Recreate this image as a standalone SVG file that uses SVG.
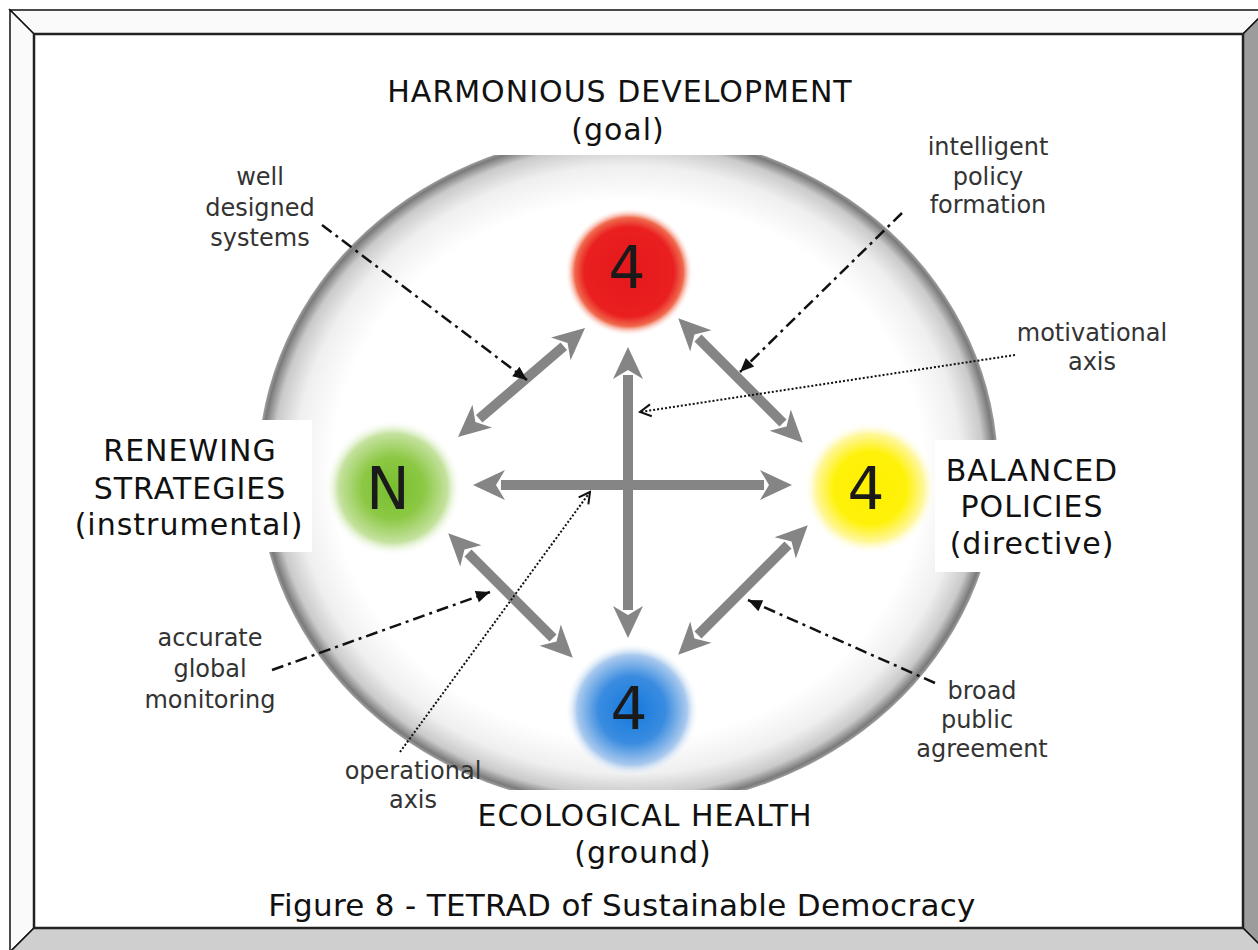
<svg xmlns="http://www.w3.org/2000/svg" width="1258" height="950" viewBox="0 0 1258 950">
<style>
.lbl{font-family:"DejaVu Sans","Liberation Sans",sans-serif;font-size:30px;fill:#111;text-anchor:middle;letter-spacing:1px}
.sm{font-family:"DejaVu Sans","Liberation Sans",sans-serif;font-size:24px;fill:#333;text-anchor:middle}
.num{font-family:"DejaVu Sans","Liberation Sans",sans-serif;font-size:58px;fill:#1a1a1a;text-anchor:middle}
.cap{font-family:"DejaVu Sans","Liberation Sans",sans-serif;font-size:31px;fill:#111;text-anchor:middle;letter-spacing:0.3px}
.ga{stroke:#858585;stroke-width:10;fill:none;marker-start:url(#gah);marker-end:url(#gah)}
.dd{stroke:#111;stroke-width:2.5;fill:none;stroke-dasharray:12 5 3 5;marker-end:url(#bah)}
.dt{stroke:#111;stroke-width:2;fill:none;stroke-dasharray:2 2;marker-end:url(#chev)}
.box{fill:#fff}
</style>
<defs>
<marker id="gah" markerUnits="userSpaceOnUse" viewBox="-10 -18 44 36" markerWidth="44" markerHeight="36" refX="0" refY="0" orient="auto-start-reverse"><path d="M28,0 L-4,-15 L5,0 L-4,15 Z" fill="#858585"/></marker>
<marker id="bah" markerUnits="userSpaceOnUse" viewBox="-16 -8 18 16" markerWidth="18" markerHeight="16" refX="0" refY="0" orient="auto"><path d="M0,0 L-14,-6 L-14,6 Z" fill="#111"/></marker>
<marker id="chev" markerUnits="userSpaceOnUse" viewBox="-14 -8 16 16" markerWidth="16" markerHeight="16" refX="0" refY="0" orient="auto"><path d="M-11,-6 L0,0 L-11,6" fill="none" stroke="#111" stroke-width="2"/></marker>
<radialGradient id="rim" cx="0.5" cy="0.5" r="0.5">
<stop offset="0" stop-color="#fff"/>
<stop offset="0.8" stop-color="#fff"/>
<stop offset="0.9" stop-color="#efefef"/>
<stop offset="0.96" stop-color="#cacaca"/>
<stop offset="0.99" stop-color="#7a7a7a"/>
<stop offset="1" stop-color="#a0a0a0"/>
</radialGradient>
<radialGradient id="gRed" cx="0.5" cy="0.5" r="0.5">
<stop offset="0" stop-color="#e5171b"/>
<stop offset="0.7" stop-color="#ea1f20"/>
<stop offset="0.85" stop-color="#f06a4e"/>
<stop offset="1" stop-color="#fff" stop-opacity="0"/>
</radialGradient>
<radialGradient id="gGreen" cx="0.5" cy="0.5" r="0.5">
<stop offset="0" stop-color="#76be2e"/>
<stop offset="0.45" stop-color="#8cc844"/>
<stop offset="0.8" stop-color="#c4e29e"/>
<stop offset="1" stop-color="#fff" stop-opacity="0"/>
</radialGradient>
<radialGradient id="gYellow" cx="0.5" cy="0.5" r="0.5">
<stop offset="0" stop-color="#fff000"/>
<stop offset="0.55" stop-color="#fff20a"/>
<stop offset="0.82" stop-color="#fff79c"/>
<stop offset="1" stop-color="#fff" stop-opacity="0"/>
</radialGradient>
<radialGradient id="gBlue" cx="0.5" cy="0.5" r="0.5">
<stop offset="0" stop-color="#1479dc"/>
<stop offset="0.5" stop-color="#3a8ce0"/>
<stop offset="0.82" stop-color="#a9c9ee"/>
<stop offset="1" stop-color="#fff" stop-opacity="0"/>
</radialGradient>
</defs>

<g id="frame">
<rect x="0" y="0" width="1258" height="950" fill="#fff"/>
<polygon points="10,10 1267,10 1243,34 34,34" fill="#fafafa" stroke="#111" stroke-width="1.5"/>
<polygon points="10,10 34,34 34,928 10,952" fill="#fafafa" stroke="#111" stroke-width="1.5"/>
<polygon points="1267,10 1243,34 1243,928 1267,952" fill="#9c9c9c" stroke="#111" stroke-width="1.5"/>
<polygon points="10,952 34,928 1243,928 1267,952" fill="#cfcfcf" stroke="#111" stroke-width="1.5"/>
<rect x="34" y="34" width="1209" height="894" fill="#fff" stroke="#222" stroke-width="2.5"/>
</g>

<g id="sphere">
<ellipse cx="628" cy="470" rx="370" ry="338" fill="url(#rim)"/>
</g>

<g id="label-boxes">
<rect class="box" x="368" y="60" width="510" height="95"/>
<rect class="box" x="60" y="420" width="252" height="132"/>
<rect class="box" x="935" y="440" width="200" height="132"/>
<rect class="box" x="455" y="790" width="380" height="86"/>
</g>

<g id="node-goal">
<circle cx="629" cy="272" r="64" fill="url(#gRed)"/>
<text class="num" x="627" y="288">4</text>
<text class="lbl" x="620" y="102">HARMONIOUS DEVELOPMENT</text>
<text class="lbl" x="618" y="140">(goal)</text>
</g>

<g id="node-instrumental">
<circle cx="393" cy="488" r="68" fill="url(#gGreen)"/>
<text class="num" x="388" y="509">N</text>
<text class="lbl" x="190" y="461">RENEWING</text>
<text class="lbl" x="190" y="499">STRATEGIES</text>
<text class="lbl" x="189" y="535">(instrumental)</text>
</g>

<g id="node-directive">
<circle cx="870" cy="488" r="66" fill="url(#gYellow)"/>
<text class="num" x="866" y="509">4</text>
<text class="lbl" x="1032" y="481">BALANCED</text>
<text class="lbl" x="1032" y="517">POLICIES</text>
<text class="lbl" x="1032" y="554">(directive)</text>
</g>

<g id="node-ground">
<circle cx="632" cy="710" r="67" fill="url(#gBlue)"/>
<text class="num" x="629" y="729">4</text>
<text class="lbl" x="645" y="826">ECOLOGICAL HEALTH</text>
<text class="lbl" x="643" y="863">(ground)</text>
</g>

<g id="connectors">
<line class="ga" x1="628" y1="375" x2="628" y2="610"/>
<line class="ga" x1="501" y1="485" x2="764" y2="485"/>
<line class="ga" x1="479.2" y1="418.8" x2="563.8" y2="346.2"/>
<line class="ga" x1="698" y1="338" x2="783" y2="423"/>
<line class="ga" x1="468" y1="553" x2="553" y2="638"/>
<line class="ga" x1="698" y1="635" x2="788" y2="545"/>
<line class="dd" x1="322" y1="225" x2="527" y2="380"/>
<line class="dd" x1="902" y1="213" x2="740" y2="372"/>
<line class="dd" x1="935" y1="683" x2="748" y2="600"/>
<line class="dd" x1="272" y1="670" x2="490" y2="592"/>
<line class="dt" x1="1015" y1="355" x2="640" y2="412"/>
<line class="dt" x1="400" y1="752" x2="590" y2="492"/>
</g>

<g id="annotations">
<text class="sm" x="260" y="185">well</text>
<text class="sm" x="260" y="216">designed</text>
<text class="sm" x="260" y="246">systems</text>
<text class="sm" x="988" y="155">intelligent</text>
<text class="sm" x="988" y="185">policy</text>
<text class="sm" x="988" y="213">formation</text>
<text class="sm" x="1092" y="341">motivational</text>
<text class="sm" x="1092" y="370">axis</text>
<text class="sm" x="210" y="646">accurate</text>
<text class="sm" x="210" y="677">global</text>
<text class="sm" x="210" y="708">monitoring</text>
<text class="sm" x="982" y="699">broad</text>
<text class="sm" x="977" y="728">public</text>
<text class="sm" x="982" y="757">agreement</text>
<text class="sm" x="413" y="779">operational</text>
<text class="sm" x="413" y="808">axis</text>
</g>

<g id="caption">
<text class="cap" x="622" y="916">Figure 8 - TETRAD of Sustainable Democracy</text>
</g>
</svg>
